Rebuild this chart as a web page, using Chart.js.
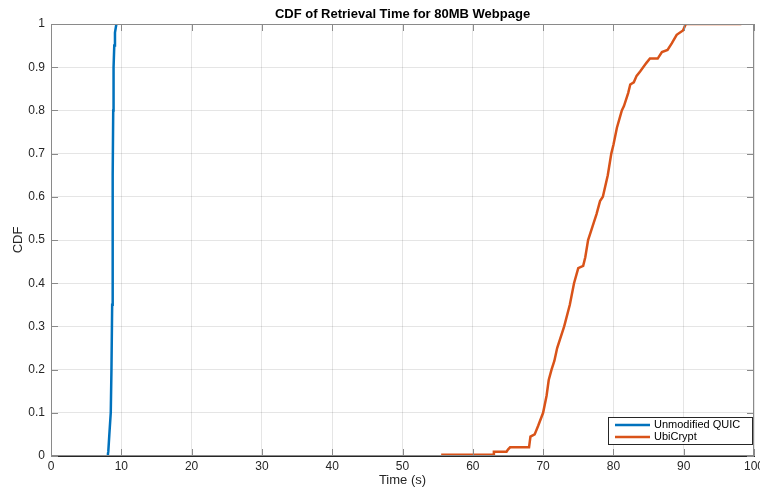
<!DOCTYPE html>
<html>
<head>
<meta charset="utf-8">
<script src="https://cdn.jsdelivr.net/npm/chart.js@4"></script>
<style>
  html, body { margin: 0; padding: 0; background: #fff; }
  #wrap { width: 760px; height: 488px; }
</style>
</head>
<body>
<div id="wrap"><canvas id="cdf"></canvas></div>
<script>
// Values (time in seconds, CDF fraction).
const quicTime = [8.0, 8.1, 8.15, 8.3, 8.5, 8.6, 8.7, 8.75, 8.8, 8.85, 8.9, 9.0, 9.1, 9.3];
const quicCdf  = [0.0, 0.005, 0.01, 0.05, 0.1, 0.2, 0.35, 0.5, 0.65, 0.8, 0.9, 0.95, 0.98, 1.0];

const ubiTime = [55.5, 62.9, 63.0, 64.8, 65.0, 65.3, 68.0, 68.2, 68.8, 69.3, 70.0, 70.5, 70.8, 71.2,
  71.6, 72.0, 72.4, 73.0, 73.8, 74.4, 75.0, 75.7, 76.0, 76.4, 77.0, 77.6, 78.1, 78.5,
  79.2, 79.7, 80.0, 80.5, 81.2, 81.5, 82.1, 82.4, 82.9, 83.3, 83.8, 84.7, 85.2, 86.3,
  86.9, 87.7, 88.3, 89.0, 89.9, 90.3, 98.2];
const ubiCdf = [0.003, 0.003, 0.01, 0.01, 0.015, 0.02, 0.02, 0.045, 0.05, 0.07, 0.1, 0.14, 0.176, 0.2,
  0.22, 0.25, 0.27, 0.3, 0.35, 0.4, 0.435, 0.44, 0.46, 0.5, 0.53, 0.56, 0.59, 0.6,
  0.65, 0.7, 0.72, 0.76, 0.8, 0.81, 0.84, 0.86, 0.865, 0.88, 0.89, 0.91, 0.92, 0.92,
  0.935, 0.94, 0.955, 0.975, 0.985, 1.0, 1.0];

const xTicks = [0, 10, 20, 30, 40, 50, 60, 70, 80, 90, 100];
const yTicks = [0, 0.1, 0.2, 0.3, 0.4, 0.5, 0.6, 0.7, 0.8, 0.9, 1];
const seriesNames = ['Unmodified QUIC', 'UbiCrypt'];
const seriesColors = ['#0072BD', '#D95319'];
const chartTitle = 'CDF of Retrieval Time for 80MB Webpage';

const FONT = 'Helvetica, "Liberation Sans", Arial, sans-serif';
const AXIS = '#262626';
const GRID = 'rgba(0,0,0,0.1)';

const toPoints = (xs, ys) => xs.map((x, i) => ({ x, y: ys[i] }));

// Title centred over the plot area (MATLAB style), not over the canvas.
const titlePlugin = {
  id: 'plotTitle',
  afterDraw(chart) {
    const { ctx, chartArea: a } = chart;
    ctx.save();
    ctx.font = 'bold 13px ' + FONT;
    ctx.fillStyle = '#000';
    ctx.textAlign = 'center';
    ctx.textBaseline = 'middle';
    ctx.fillText(chartTitle, (a.left + a.right) / 2, 14);
    ctx.restore();
  }
};

// MATLAB-style box: top/right edges and inward tick marks.
const boxPlugin = {
  id: 'box',
  afterDraw(chart) {
    const { ctx, chartArea: a, scales } = chart;
    ctx.save();
    ctx.strokeStyle = '#8a8a8a';
    ctx.lineWidth = 1;
    ctx.strokeRect(a.left + 0.5, a.top + 0.5, a.right - a.left - 1, a.bottom - a.top - 1);
    ctx.beginPath();
    xTicks.forEach(v => {
      const px = Math.round(scales.x.getPixelForValue(v)) + 0.5;
      ctx.moveTo(px, a.bottom); ctx.lineTo(px, a.bottom - 7);
      ctx.moveTo(px, a.top); ctx.lineTo(px, a.top + 7);
    });
    yTicks.forEach(v => {
      const py = Math.round(scales.y.getPixelForValue(v)) + 0.5;
      ctx.moveTo(a.left, py); ctx.lineTo(a.left + 7, py);
      ctx.moveTo(a.right, py); ctx.lineTo(a.right - 7, py);
    });
    ctx.stroke();
    ctx.restore();
  }
};

// Legend box in the lower right corner of the plot area.
const legendPlugin = {
  id: 'cornerLegend',
  afterDraw(chart) {
    const { ctx, chartArea: a } = chart;
    const w = 144, h = 27;
    const x0 = a.right - w - 2, y0 = a.bottom - h - 12;
    ctx.save();
    ctx.fillStyle = '#fff';
    ctx.fillRect(x0, y0, w, h);
    ctx.strokeStyle = '#262626';
    ctx.lineWidth = 1;
    ctx.strokeRect(x0 + 0.5, y0 + 0.5, w, h);
    ctx.font = '11px ' + FONT;
    ctx.textBaseline = 'middle';
    seriesNames.forEach((name, i) => {
      const cy = y0 + 8 + i * 12;
      ctx.strokeStyle = seriesColors[i];
      ctx.lineWidth = 2.5;
      ctx.beginPath();
      ctx.moveTo(x0 + 7, cy); ctx.lineTo(x0 + 42, cy);
      ctx.stroke();
      ctx.fillStyle = '#000';
      ctx.fillText(name, x0 + 46, cy);
    });
    ctx.restore();
  }
};

new Chart(document.getElementById('cdf').getContext('2d'), {
  type: 'line',
  data: {
    datasets: [
      { label: seriesNames[0], data: toPoints(quicTime, quicCdf),
        borderColor: seriesColors[0], backgroundColor: seriesColors[0],
        borderWidth: 2.5, pointRadius: 0, tension: 0 },
      { label: seriesNames[1], data: toPoints(ubiTime, ubiCdf),
        borderColor: seriesColors[1], backgroundColor: seriesColors[1],
        borderWidth: 2.5, pointRadius: 0, tension: 0 }
    ]
  },
  options: {
    responsive: true,
    maintainAspectRatio: false,
    animation: false,
    layout: { padding: { left: 0, right: 6, top: 24, bottom: 0 } },
    plugins: {
      legend: { display: false },
      tooltip: { enabled: false },
      title: { display: false }
    },
    scales: {
      x: {
        type: 'linear', min: 0, max: 100,
        afterBuildTicks: s => { s.ticks = xTicks.map(v => ({ value: v })); },
        afterFit: s => { s.height = 32; s.paddingLeft = 0; s.paddingRight = 0; },
        grid: { color: GRID, drawTicks: false },
        border: { color: AXIS },
        ticks: { color: AXIS, font: { family: FONT, size: 12 }, padding: 3, maxRotation: 0 },
        title: { display: true, text: 'Time (s)', color: AXIS, font: { family: FONT, size: 13 }, padding: 0 }
      },
      y: {
        type: 'linear', min: 0, max: 1,
        afterBuildTicks: s => { s.ticks = yTicks.map(v => ({ value: v })); },
        afterFit: s => { s.width = 51; s.paddingTop = 0; s.paddingBottom = 0; },
        grid: { color: GRID, drawTicks: false },
        border: { color: AXIS },
        ticks: { color: AXIS, font: { family: FONT, size: 12 }, padding: 6,
          callback: v => String(Math.round(v * 10) / 10) },
        title: { display: true, text: 'CDF', color: AXIS, font: { family: FONT, size: 13 }, padding: { top: 11, bottom: 0 } }
      }
    }
  },
  plugins: [titlePlugin, boxPlugin, legendPlugin]
});
</script>
</body>
</html>
